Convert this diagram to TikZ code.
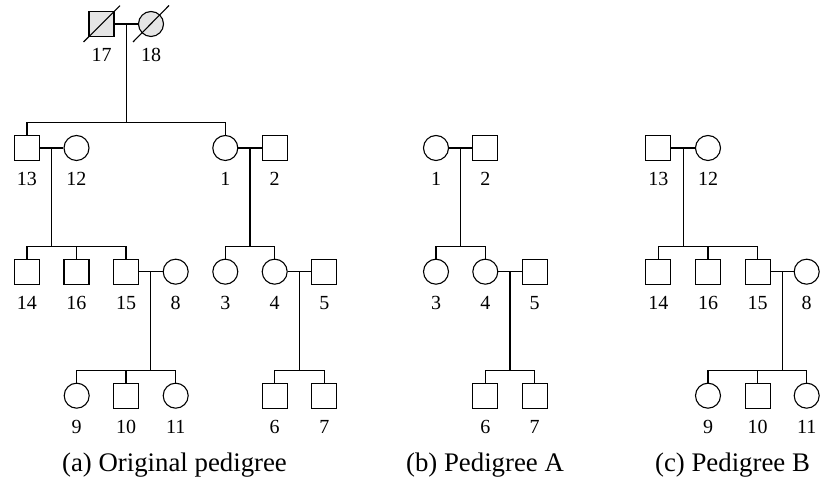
\documentclass[tikz,border=0pt]{standalone}
\usepackage{fontspec}
\setmainfont{Liberation Serif}
\usepackage{tikz}
\usetikzlibrary{calc}
\tikzset{
    % males and females
    male/.style={
        draw,
        rectangle,
        minimum size=12.5pt,
        inner sep=0pt
    },
    female/.style={
        draw,
        circle,
        minimum size=12.5pt,
        inner sep=0pt
    },
    dead/.style={fill=gray!20},
    who/.style={label={[anchor=base,label distance=12.25pt]below:#1}},
    caption/.style={anchor=base,font=\fontsize{13.4}{16}\selectfont}
}

\begin{document}
\begin{tikzpicture}[x=0.5pt,y=-0.5pt,line width=0.55pt,font=\fontsize{10}{12}\selectfont]
	\useasboundingbox (0,0) rectangle (821,485);

	% (a) original pedigree
	\node[male,dead,who=17] (p17) at (101.5,24) {};
	\node[female,dead,who=18] (p18) at (151,24) {};

	\node[male,who=13] (p13) at (27,148) {};
	\node[female,who=12] (p12) at (76.5,148) {};
	\node[female,who=1] (p1) at (225.3,148) {};
	\node[male,who=2] (p2) at (274.7,148) {};

	\node[male,who=14] (p14) at (27,271.7) {};
	\node[male,who=16] (p16) at (76.5,271.7) {};
	\node[male,who=15] (p15) at (126,271.7) {};
	\node[female,who=8] (p8) at (175.7,271.7) {};
	\node[female,who=3] (p3) at (225.3,271.7) {};
	\node[female,who=4] (p4) at (274.7,271.7) {};
	\node[male,who=5] (p5) at (324.3,271.7) {};

	\node[female,who=9] (p9) at (76.7,395.7) {};
	\node[male,who=10] (p10) at (126,395.7) {};
	\node[female,who=11] (p11) at (175.7,395.7) {};
	\node[male,who=6] (p6) at (274.7,395.7) {};
	\node[male,who=7] (p7) at (324.3,395.7) {};

	% deceased
	\draw ($(p17)+(-18,18)$) -- ($(p17)+(18.5,-18.3)$);
	\draw ($(p18)+(-18,18)$) -- ($(p18)+(18,-18.5)$);

	% marriages
	\draw (p17) -- (p18);
	\draw (p13) -- (p12);
	\draw (p1) -- (p2);
	\draw (p15) -- (p8);
	\draw (p4) -- (p5);
	\path
	($(p17)!0.5!(p18)$) coordinate (m17)
	($(p13)!0.5!(p12)$) coordinate (m13)
	($(p1)!0.5!(p2)$) coordinate (m1)
	($(p15)!0.5!(p8)$) coordinate (m15)
	($(p4)!0.5!(p5)$) coordinate (m4);

	% sibships
	\draw (p13.north) -- ++(0,-12.5) coordinate (s17) -| (p1.north);
	\draw (m17) -- (m17 |- s17);
	\draw (p14.north) -- ++(0,-12.5) coordinate (s13) -| (p15.north);
	\draw (p16.north) -- (p16.north |- s13);
	\draw (m13) -- (m13 |- s13);
	\draw (p3.north) -- ++(0,-12.5) coordinate (s1) -| (p4.north);
	\draw (m1) -- (m1 |- s1);
	\draw (p9.north) -- ++(0,-12.5) coordinate (s15) -| (p11.north);
	\draw (p10.north) -- (p10.north |- s15);
	\draw (m15) -- (m15 |- s15);
	\draw (p6.north) -- ++(0,-12.5) coordinate (s4) -| (p7.north);
	\draw (m4) -- (m4 |- s4);

	% (b) pedigree A
	\node[female,who=1] (pa1) at (436,148) {};
	\node[male,who=2] (pa2) at (485.3,148) {};
	\node[female,who=3] (pa3) at (436,271.7) {};
	\node[female,who=4] (pa4) at (485.3,271.7) {};
	\node[male,who=5] (pa5) at (534.7,271.7) {};
	\node[male,who=6] (pa6) at (485.3,395.7) {};
	\node[male,who=7] (pa7) at (534.7,395.7) {};

	\draw (pa1) -- (pa2);
	\draw (pa4) -- (pa5);
	\path
	($(pa1)!0.5!(pa2)$) coordinate (ma1)
	($(pa4)!0.5!(pa5)$) coordinate (ma4);
	\draw (pa3.north) -- ++(0,-12.5) coordinate (sa1) -| (pa4.north);
	\draw (ma1) -- (ma1 |- sa1);
	\draw (pa6.north) -- ++(0,-12.5) coordinate (sa4) -| (pa7.north);
	\draw (ma4) -- (ma4 |- sa4);

	% (c) pedigree B
	\node[male,who=13] (pb13) at (658.3,148) {};
	\node[female,who=12] (pb12) at (708,148) {};
	\node[male,who=14] (pb14) at (658.3,271.7) {};
	\node[male,who=16] (pb16) at (708,271.7) {};
	\node[male,who=15] (pb15) at (757.7,271.7) {};
	\node[female,who=8] (pb8) at (806.7,271.7) {};
	\node[female,who=9] (pb9) at (708,395.7) {};
	\node[male,who=10] (pb10) at (757.7,395.7) {};
	\node[female,who=11] (pb11) at (806.7,395.7) {};

	\draw (pb13) -- (pb12);
	\draw (pb15) -- (pb8);
	\path
	($(pb13)!0.5!(pb12)$) coordinate (mb13)
	($(pb15)!0.5!(pb8)$) coordinate (mb15);
	\draw (pb14.north) -- ++(0,-12.5) coordinate (sb13) -| (pb15.north);
	\draw (pb16.north) -- (pb16.north |- sb13);
	\draw (mb13) -- (mb13 |- sb13);
	\draw (pb9.north) -- ++(0,-12.5) coordinate (sb15) -| (pb11.north);
	\draw (pb10.north) -- (pb10.north |- sb15);
	\draw (mb15) -- (mb15 |- sb15);

	% captions
	\node[caption] (capa) at (174.5,471.5) {(a) Original pedigree};
	\node[caption] (capb) at (485,471.5) {(b) Pedigree A};
	\node[caption] (capc) at (732.5,471.5) {(c) Pedigree B};
\end{tikzpicture}
\end{document}
